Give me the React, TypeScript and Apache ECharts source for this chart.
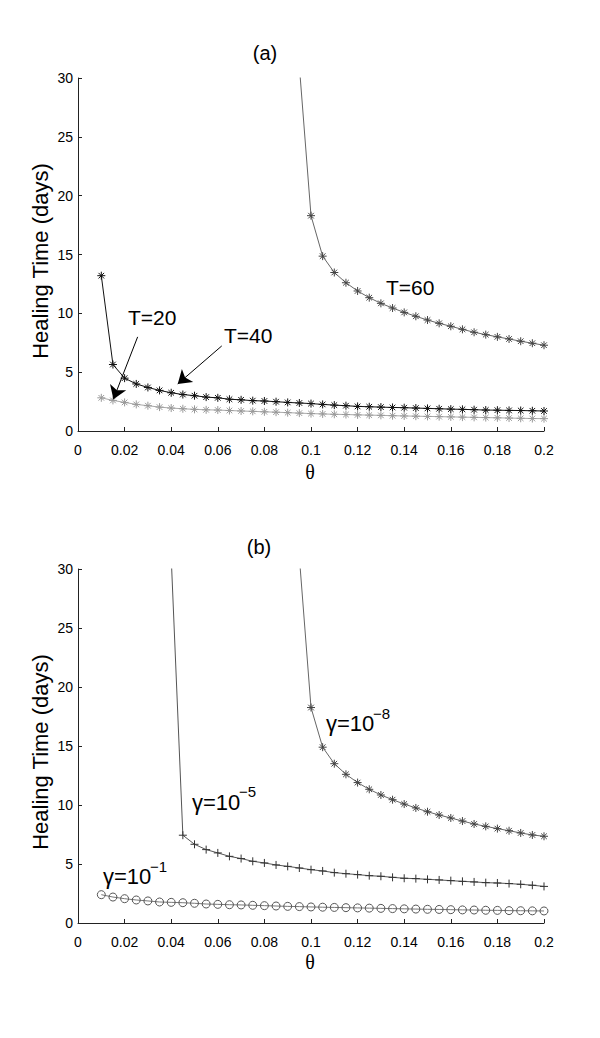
import React, { useEffect, useRef } from "react";
import * as echarts from "echarts";

// θ values (x axis)
const theta = [
  0.01, 0.015, 0.02, 0.025, 0.03, 0.035, 0.04, 0.045, 0.05, 0.055,
  0.06, 0.065, 0.07, 0.075, 0.08, 0.085, 0.09, 0.095, 0.1, 0.105,
  0.11, 0.115, 0.12, 0.125, 0.13, 0.135, 0.14, 0.145, 0.15, 0.155,
  0.16, 0.165, 0.17, 0.175, 0.18, 0.185, 0.19, 0.195, 0.2,
];

// Panel (a)
const t20 = [
  2.82, 2.6, 2.43, 2.26, 2.15, 2.03, 1.95, 1.89, 1.84, 1.8,
  1.78, 1.74, 1.7, 1.67, 1.63, 1.6, 1.56, 1.52, 1.48, 1.45,
  1.42, 1.4, 1.37, 1.35, 1.33, 1.3, 1.28, 1.26, 1.24, 1.22,
  1.2, 1.18, 1.16, 1.14, 1.12, 1.1, 1.08, 1.06, 1.05,
];
const t40 = [
  13.2, 5.65, 4.49, 4.0, 3.7, 3.45, 3.25, 3.1, 3.0, 2.88,
  2.82, 2.7, 2.65, 2.58, 2.55, 2.49, 2.43, 2.38, 2.33, 2.26,
  2.2, 2.15, 2.09, 2.06, 2.03, 2.0, 1.98, 1.95, 1.92, 1.89,
  1.86, 1.84, 1.81, 1.78, 1.77, 1.75, 1.74, 1.72, 1.7,
];
const t60 = [
  null, null, null, null, null, null, null, null, null, null,
  null, null, null, null, null, null, null, 31, 18.3, 14.86,
  13.47, 12.6, 11.9, 11.33, 10.85, 10.45, 10.08, 9.75, 9.43, 9.15,
  8.9, 8.64, 8.39, 8.19, 8.0, 7.82, 7.63, 7.46, 7.29,
];

// Panel (b)
const g1 = [
  2.4, 2.2, 2.06, 1.95, 1.87, 1.78, 1.75, 1.72, 1.67, 1.61,
  1.58, 1.55, 1.53, 1.5, 1.47, 1.44, 1.41, 1.39, 1.36, 1.34,
  1.32, 1.3, 1.28, 1.26, 1.24, 1.22, 1.2, 1.18, 1.16, 1.15,
  1.13, 1.11, 1.1, 1.08, 1.07, 1.05, 1.04, 1.03, 1.02,
];
const g5 = [
  null, null, null, null, null, null, 31, 7.44, 6.67, 6.22,
  5.94, 5.65, 5.46, 5.23, 5.09, 4.92, 4.8, 4.66, 4.52, 4.41,
  4.27, 4.18, 4.1, 4.01, 3.96, 3.87, 3.79, 3.76, 3.7, 3.65,
  3.59, 3.53, 3.48, 3.42, 3.39, 3.34, 3.28, 3.2, 3.1,
];
const g8 = [
  null, null, null, null, null, null, null, null, null, null,
  null, null, null, null, null, null, null, 31, 18.26, 14.9,
  13.5, 12.6, 11.9, 11.33, 10.85, 10.45, 10.08, 9.75, 9.43, 9.15,
  8.9, 8.64, 8.39, 8.19, 8.0, 7.82, 7.63, 7.46, 7.35,
];

const yTicks = [0, 5, 10, 15, 20, 25, 30];
const xTicks = [0, 0.2];

// Arrow annotations in data coordinates (panel a)
const arrowT20 = [[0.0256, 8.0], [0.0152, 2.7]];
const arrowT40 = [[0.0617, 7.23], [0.0428, 4.0]];

const ASTERISK = "path://M0,-10L0,10M-10,0L10,0M-7,-7L7,7M-7,7L7,-7";
const PLUS = "path://M0,-10L0,10M-10,0L10,0";

const SANS = "'Liberation Sans', Arial, Helvetica, sans-serif";
const SERIF = "'Liberation Serif', 'Times New Roman', serif";

const pairs = (ys: (number | null)[]) =>
  theta.map((t, i) => [t, ys[i]]).filter((p) => p[1] !== null);

export default function App() {
  const ref = useRef<HTMLDivElement>(null);

  useEffect(() => {
    document.body.style.margin = "0";
    const chart = echarts.init(ref.current!, null, { renderer: "svg" });

    const grids = [
      { left: 78, top: 78, width: 466, height: 353 },
      { left: 78, top: 569, width: 466, height: 354 },
    ];

    const xAxis = [0, 1].map((gi) => ({
      type: "value",
      gridIndex: gi,
      min: xTicks[0],
      max: xTicks[1],
      interval: 0.02,
      axisLine: { show: true, onZero: false, lineStyle: { color: "#222", width: 1 } },
      axisTick: { show: true, inside: true, length: 4, lineStyle: { color: "#222" } },
      axisLabel: { color: "#000", fontSize: 14, fontFamily: SANS, margin: 12 },
      splitLine: { show: false },
    }));

    const yAxis = [0, 1].map((gi) => ({
      type: "value",
      gridIndex: gi,
      min: yTicks[0],
      max: yTicks[yTicks.length - 1],
      interval: 5,
      axisLine: { show: true, lineStyle: { color: "#222", width: 1 } },
      axisTick: { show: true, inside: true, length: 4, lineStyle: { color: "#222" } },
      axisLabel: { color: "#000", fontSize: 14, fontFamily: SANS, margin: 5 },
      splitLine: { show: false },
    }));

    const mk = (
      name: string,
      gi: number,
      data: any[],
      symbol: string,
      size: number,
      lineColor: string,
      markColor: string,
      extra: any = {}
    ) => ({
      name,
      type: "line",
      xAxisIndex: gi,
      yAxisIndex: gi,
      data,
      symbol,
      symbolSize: size,
      showSymbol: true,
      showAllSymbol: true,
      clip: true,
      lineStyle: { color: lineColor, width: 1 },
      itemStyle: { color: "transparent", borderColor: markColor, borderWidth: 1 },
      emphasis: { disabled: true },
      ...extra,
    });

    const arrowLine = (a: number[][]) => [{ coord: a[0] }, { coord: a[1] }];

    const text = (
      t: string,
      x: number,
      y: number,
      size: number,
      align = "left",
      font = SANS,
      rotation = 0
    ) => ({
      type: "text",
      x,
      y,
      rotation,
      silent: true,
      style: {
        text: t,
        fill: "#000",
        fontSize: size,
        fontFamily: font,
        align,
        verticalAlign: "middle",
      },
    });

    chart.setOption({
      animation: false,
      backgroundColor: "#fff",
      grid: grids,
      xAxis,
      yAxis,
      series: [
        mk("T=20", 0, pairs(t20), ASTERISK, 8, "#aaaaaa", "#999999"),
        mk("T=40", 0, pairs(t40), ASTERISK, 8, "#111111", "#111111", {
          markLine: {
            silent: true,
            symbol: ["none", "arrow"],
            symbolSize: 13,
            label: { show: false },
            lineStyle: { color: "#000", width: 1, type: "solid" },
            itemStyle: { color: "#000" },
            data: [arrowLine(arrowT20), arrowLine(arrowT40)],
          },
        }),
        mk("T=60", 0, pairs(t60), ASTERISK, 8, "#666666", "#444444"),
        mk("g1", 1, pairs(g1), "circle", 8, "#777777", "#555555"),
        mk("g5", 1, pairs(g5), PLUS, 8, "#555555", "#333333"),
        mk("g8", 1, pairs(g8), ASTERISK, 8, "#666666", "#444444"),
      ],
      graphic: [
        text("(a)", 265, 53, 20, "center"),
        text("(b)", 259, 547, 20, "center"),
        text("Healing Time (days)", 40, 261, 22, "center", SANS, Math.PI / 2),
        text("Healing Time (days)", 40, 752, 22, "center", SANS, Math.PI / 2),
        text("θ", 310, 472, 20, "center", SERIF),
        text("θ", 310, 962, 20, "center", SERIF),
        text("T=20", 128, 317, 21),
        text("T=40", 224, 335, 21),
        text("T=60", 386, 287, 21),
        text("γ=10", 192, 802, 22),
        text("−5", 239, 791, 15),
        text("γ=10", 103, 876, 22),
        text("−1", 150, 866, 15),
        text("γ=10", 326, 723, 22),
        text("−8", 373, 713, 15),
      ],
    });

    return () => chart.dispose();
  }, []);

  return <div ref={ref} style={{ width: 600, height: 1038 }} />;
}
